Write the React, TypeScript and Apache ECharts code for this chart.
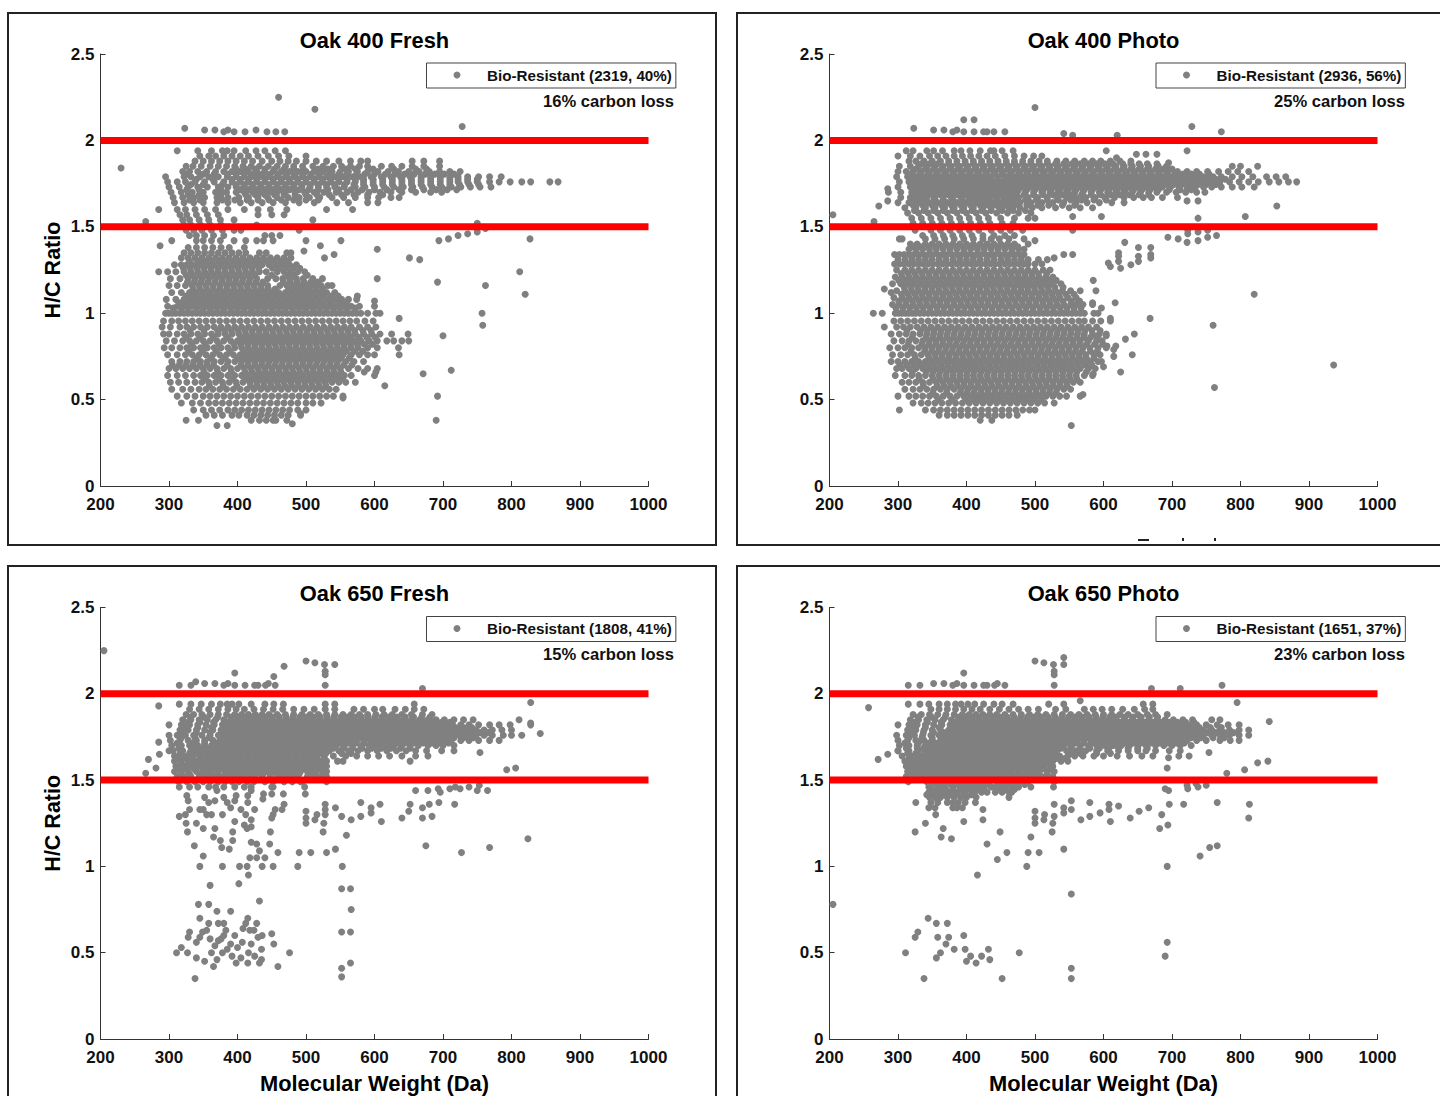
import React, { useEffect, useRef } from "react";
import * as echarts from "echarts";

type Row = [number, number[]];
const FONT = "'Liberation Sans', Arial, sans-serif";
const tickLabelsX = [200, 300, 400, 500, 600, 700, 800, 900, 1000];
const boundaries = [2, 1.5];
const titles = ["Oak 400 Fresh", "Oak 400 Photo", "Oak 650 Fresh", "Oak 650 Photo"];
const legendNames = ["Bio-Resistant (2319, 40%)", "Bio-Resistant (2936, 56%)", "Bio-Resistant (1808, 41%)", "Bio-Resistant (1651, 37%)"];
const lossNotes = ["16% carbon loss", "25% carbon loss", "15% carbon loss", "23% carbon loss"];

const fresh400Upper: Row[] = [
[1.94,[312,342,362,378,385,395,412,427,440,455,470]],
[1.91,[345,358,368,380,392,404,416,430,445,460,475,500]],
[1.88,[338,350,362,374,386,398,410,422,436,450,462,474,486,500,515,530,548,565,580,590,655,672,695]],
[1.85,[325,335,347,360,372,384,396,408,420,432,445,458,470,482,495,510,525,540,552,565,578,590,610,625,640,655,672,695]],
[1.82,[320,330,342,355,368,380,392,404,416,428,440,452,464,476,488,500,512,525,538,550,562,575,590,605,620,635,650,665,680,695,710,725]],
[1.79,[295,322,332,345,358,372,385,398,410,420,432,445,458,470,482,494,506,518,530,542,555,568,580,595,610,624,638,652,668,682,696,710,722,736,752,768,785]],
[1.76,[298,312,324,338,352,366,380,392,404,416,428,440,452,464,476,488,500,512,524,536,548,560,572,584,598,612,626,640,654,668,682,696,710,722,736,750,768,782,798,815,828,856,868]],
[1.73,[300,315,328,342,356,372,386,398,410,422,434,446,458,470,482,494,506,518,530,542,556,572,586,600,614,628,642,656,670,684,698,712,726,740,754,770]],
[1.70,[303,318,334,350,368,384,398,410,422,434,446,458,470,484,498,512,526,544,560,576,592,608,624,640,660,682,698]],
[1.67,[306,320,336,352,370,386,402,416,430,444,458,474,490,505,520,538,555,572,590,606,624,636]],
[1.64,[308,322,336,350,370,386,404,420,436,452,470,490,512,545,562,590,605]],
[1.60,[285,312,324,338,352,368,386,410,430,448,472,530,568]],
[1.57,[316,326,340,356,372,430,450,468]],
[1.54,[320,330,344,358,375,395,510]],
[1.51,[322,332,346,360,376,428]],
[1.48,[325,336,348,362,378,395,405,490]],
[1.45,[330,340,352,365,380,440,450,462]],
[1.42,[304,340,350,362,375,395,412,428,438,452]],
];
const fresh400UpperFill: Row[] = [
[1.835,[398,412,426,440,454,468,482,496,518,532,558,572,598,628,660,676]],
[1.805,[328,350,366,386,398,410,424,436,448,460,472,484,496,508,520,534,548,560,574,586,600,616,630,644,658,674,688,702,716]],
[1.775,[340,364,392,404,416,428,440,452,464,476,488,500,512,524,536,548,560,572,584,598,612,626,640,654,668,682,696,710,722,736,750]],
[1.745,[332,350,378,398,410,422,434,446,458,470,482,494,506,518,530,542,556,570,584,598,612,626,640,654,668,682,696,710,724,738,752]],
[1.715,[326,344,376,404,416,428,440,452,464,476,490,504,518,532,548,566,582,600,618,636,654,672,690,706,720]],
[1.685,[328,344,376,412,426,440,454,468,484,500,516,534,552,570,590,612]],
[1.655,[330,345,378,396,414,430,446,464,482,500,518]],
];
const fresh400Lower: Row[] = [
[1.38,[328,340,352,364,376,388,410]],
[1.35,[322,332,342,352,362,372,382,392,402,412,432,442,472,478]],
[1.32,[318,328,338,348,358,368,378,388,398,408,418,428,438,448,458,468,478]],
[1.28,[308,318,326,336,346,356,366,376,386,396,406,416,426,436,446,456,466,476,486]],
[1.24,[285,298,310,322,332,342,352,362,372,382,392,402,412,422,432,442,458,468,478,488,498]],
[1.20,[302,316,328,338,348,358,368,378,388,398,408,418,428,444,456,466,476,486,496,510,524]],
[1.16,[300,312,324,334,344,354,364,374,384,394,404,414,424,434,444,462,472,482,492,502,512,522,532,538]],
[1.12,[304,318,330,340,350,360,370,380,390,400,410,420,430,440,450,460,470,480,490,500,510,520,530,542]],
[1.08,[296,310,322,332,342,352,362,372,382,392,402,412,422,432,442,452,462,472,482,492,502,512,522,532,542,552,562,574]],
[1.04,[298,312,324,334,344,354,364,374,384,394,404,414,424,434,444,454,464,474,484,494,504,514,524,534,544,554,566,578,600]],
[1.00,[295,300,305,310,316,322,328,334,340,346,352,358,364,370,376,382,388,394,400,406,412,418,424,430,436,442,448,454,460,466,472,478,484,490,496,502,508,514,520,526,532,538,544,550,556,562,568,574,580,590,602,608]],
[0.955,[292,304,314,324,334,344,354,364,374,384,394,404,414,424,434,444,454,464,474,484,494,504,514,524,534,544,554,564,574,586,598]],
[0.92,[290,302,316,326,336,346,356,366,376,386,396,406,416,426,436,446,456,466,476,486,496,506,516,526,536,546,556,566,578,590,602]],
[0.88,[292,300,312,322,332,342,352,362,372,382,392,402,412,422,432,442,452,462,472,482,492,502,512,522,532,542,552,562,572,584,596,608,625,649]],
[0.84,[296,308,320,330,340,350,360,370,380,390,400,410,420,430,440,450,460,470,480,490,500,510,520,530,540,550,560,570,580,592,604,618,628,640,650]],
[0.80,[293,304,316,326,336,346,356,366,376,386,396,406,416,426,436,446,456,466,476,486,496,506,516,526,536,546,556,566,576,590,604,635]],
[0.76,[298,312,324,334,344,354,364,374,384,394,404,414,424,434,444,454,464,474,484,494,504,514,524,534,544,554,566,578,590,600,636]],
[0.72,[304,316,326,336,346,356,366,376,386,396,406,416,426,436,446,456,466,476,486,496,506,516,526,536,546,558,570,584]],
[0.68,[300,310,320,330,340,350,360,370,380,390,400,410,420,430,440,450,460,470,480,490,500,510,520,530,540,550,562,576,590,604]],
[0.64,[298,312,324,336,346,356,366,376,386,396,406,416,426,436,446,456,466,476,486,496,506,516,526,536,546,556,566,600]],
[0.60,[302,314,326,338,348,358,368,378,388,398,408,418,428,438,448,458,468,478,488,498,508,518,528,538,548,558,572]],
[0.56,[304,320,332,344,354,364,374,384,394,404,414,424,434,444,454,464,474,484,494,504,514,524,534,544]],
[0.52,[312,326,338,350,360,370,380,390,400,410,420,430,440,450,460,470,480,490,500,510,520,530,540,554]],
[0.48,[318,334,346,358,368,378,388,398,408,418,428,438,448,458,468,478,488,500,510,522]],
[0.44,[336,350,362,374,386,396,406,416,426,436,446,456,466,476,488,500]],
[0.41,[354,366,378,392,402,414,424,434,444,454,464,474,492]],
[0.38,[325,343,420,432,442,452,456,472]],
];
const fresh400LowerFill: Row[] = [
[1.30,[330,343,353,363,373,383,393,403,413,423,433,443,453,463,473]],
[1.26,[321,331,341,351,361,371,381,391,401,411,421,431,451,461,471,481,491]],
[1.22,[325,335,345,355,365,375,385,395,405,415,425,450,472,482,502]],
[1.18,[327,337,347,357,367,377,387,397,407,417,427,437,467,477,487,497,507,517]],
[1.14,[335,345,355,365,375,385,395,405,415,425,435,445,455,475,485,495,505,515,525]],
[1.10,[325,335,345,355,365,375,385,395,405,415,425,435,445,455,465,475,485,495,505,515,525,537,547]],
[1.06,[317,327,337,347,357,367,377,387,397,407,417,427,437,447,457,467,477,487,497,507,517,527,537,549,559]],
[1.03,[306,318,328,340,350,360,370,380,390,400,410,420,430,440,450,460,470,480,490,500,510,520,530,540,550,560,572]],
[0.90,[331,351,371,381,391,401,411,421,431,441,451,461,471,481,491,501,511,521,531,541,551,561,571,583,595]],
[0.86,[325,345,365,385,405,415,425,435,445,455,465,475,485,495,505,515,525,535,545,555,565,577,589,601]],
[0.82,[333,353,373,395,405,415,425,435,445,455,465,475,485,495,505,515,525,535,545,555,565,575,585,597]],
[0.78,[329,349,369,389,409,419,429,439,449,459,469,479,489,499,509,519,529,539,549,559,571,583]],
[0.74,[341,361,381,401,411,421,431,441,451,461,471,481,491,501,511,521,531,541,551,563]],
[0.70,[305,315,325,335,345,355,365,385,405,415,425,435,445,455,465,475,485,495,505,515,525,535,545,555,567]],
[0.66,[351,371,391,411,421,431,441,451,461,471,481,491,501,511,521,531,541,551]],
[0.62,[353,373,393,413,423,433,443,453,463,473,483,493,503,513,523,533,543,553]],
[0.58,[359,379,399,419,429,439,449,459,469,479,489,499,509,519,529]],
];
const fresh400Scatter: number[][] = [[230,1.84],[266,1.53],[287,1.39],[323,2.07],[352,2.06],[367,2.06],[380,2.05],[386,2.06],[395,2.05],[411,2.05],[427,2.06],[443,2.05],[456,2.05],[469,2.05],[460,2.25],[513,2.18],[728,2.08],[694,1.42],[708,1.43],[722,1.45],[736,1.46],[750,1.47],[750,1.52],[762,1.49],[827,1.43],[551,1.42],[500,1.42],[521,1.39],[497,1.36],[527,1.32],[541,1.34],[604,1.37],[651,1.32],[666,1.31],[604,1.2],[692,1.18],[812,1.24],[762,1.16],[820,1.11],[757,1.0],[758,0.93],[636,0.97],[700,0.87],[712,0.67],[671,0.65],[692,0.52],[690,0.38],[615,0.58],[554,0.51],[480,0.36],[492,0.42],[370,0.35],[385,0.35],[600,1.07],[575,1.1],[602,0.66],[585,0.66]];

const photo400Upper: Row[] = [
[1.94,[312,322,342,352,365,382,392,405,420,435,440,452,468]],
[1.91,[300,318,332,346,358,370,382,394,406,418,430,442,456,470,484,498,510]],
[1.88,[316,326,338,350,362,374,386,398,410,422,434,446,458,470,482,494,506,518,532,545,558,572,584,596,610,624,640]],
[1.85,[302,318,330,342,354,366,378,390,402,414,426,438,450,462,474,486,498,510,522,534,546,558,570,582,594,606,618,630,642,654,666,680,692,788,800,825]],
[1.82,[300,312,322,334,346,358,370,382,394,406,418,430,442,454,466,478,490,502,514,526,538,550,562,574,586,598,610,622,634,646,658,670,682,694,708,722,736,752,768,782,796,812]],
[1.79,[298,314,326,338,350,362,374,386,398,410,422,434,446,458,470,482,494,506,518,530,542,554,566,578,590,602,614,626,638,650,662,674,686,698,710,722,734,746,760,772,788,802,818,838,852,866]],
[1.76,[302,316,328,340,352,364,376,388,400,410,420,430,440,450,460,470,480,492,504,516,528,540,552,564,576,588,600,612,624,636,648,660,672,684,696,708,720,732,744,756,770,784,798,812,826,842,856,870,882]],
[1.73,[300,318,330,342,354,366,378,390,400,410,420,430,440,450,460,470,482,494,506,518,530,542,554,566,578,590,602,614,626,638,650,662,674,686,698,710,722,734,746,758,772,788,802,820]],
[1.70,[286,304,320,332,344,356,368,380,392,402,412,422,432,442,452,462,474,486,498,510,522,534,546,558,570,582,594,606,618,630,642,654,666,678,692,706,720,736,748]],
[1.67,[304,318,330,342,354,366,378,392,404,414,424,434,444,454,464,476,490,504,518,532,546,560,574,588,602,616,630,644,658,670,686,708]],
[1.64,[300,316,330,344,358,372,386,400,414,426,438,450,464,478,494,510,526,542,560,576,594,612,630]],
[1.61,[310,326,340,354,368,382,396,410,424,436,448,462,478,496,510,530,550,566,584]],
[1.58,[314,330,344,358,372,386,400,414,428,444,460,476,494]],
[1.55,[320,334,348,362,376,390,404,418,432,450,470,490,500]],
[1.52,[322,336,350,364,378,392,406,420,434,452,468]],
[1.48,[325,348,362,376,390,404,418,436,450,464,482]],
[1.45,[336,352,366,380,394,408,424,440,456,470]],
];
const photo400UpperFill: Row[] = [
[1.865,[334,346,358,374,386,398,410,422,434,446,458,470,482,494,506,518,530,542,554,566,578,590,602,614,628,640,652,664,678]],
[1.835,[326,340,352,364,376,388,400,412,424,436,448,460,472,484,496,508,520,532,544,556,568,580,592,604,616,628,640,652,664,676,688,700]],
[1.805,[320,332,344,356,368,380,392,404,416,428,440,452,464,476,488,500,512,524,536,548,560,572,584,596,608,620,632,644,656,668,680,692,704,716,728,740,754]],
[1.775,[322,334,346,358,370,382,394,406,416,426,436,446,456,466,476,488,500,512,524,536,548,560,572,584,596,608,620,632,644,656,668,680,692,704,716,728,740,752,764,778]],
[1.745,[324,336,348,360,372,384,394,404,414,424,434,444,454,464,474,486,498,510,522,534,546,558,570,582,594,606,618,630,642,654,666,678,690,702,714,726,738,750,764]],
[1.715,[326,338,350,362,374,386,396,406,416,426,436,446,456,466,476,488,500,512,524,536,548,560,572,584,596,608,620,632,644,656,668,680,696,712,728]],
[1.685,[326,338,350,362,374,386,398,408,418,428,438,448,458,470,484,498,512,526,540,554,568,582,596,610,624,638,652,666]],
[1.655,[324,338,352,366,380,394,406,420,432,444,456,470,486,502,518,534,552,568,586,604]],
[1.625,[322,336,350,364,378,392,406,420,432,444,456,470,488,504,520,540,558]],
[1.595,[324,338,352,366,380,394,408,422,436,452,468,486]],
];
const photo400Lower: Row[] = [
[1.43,[302,306,340,354,368,382,396,410,424,436,448,462,484]],
[1.40,[318,328,340,350,360,370,380,390,400,410,420,430,440,450,460,470,490]],
[1.37,[316,326,336,346,356,366,376,386,396,406,416,426,436,446,456,466,476,484]],
[1.34,[295,302,309,316,323,330,337,344,351,358,365,372,379,386,393,400,407,414,421,428,435,442,449,456,463,470,477,484]],
[1.31,[300,310,320,330,340,350,360,370,380,390,400,410,420,430,440,450,460,470,480,490,505,518]],
[1.285,[295,302,309,316,323,330,337,344,351,358,365,372,379,386,393,400,407,414,421,428,435,442,449,456,463,470,477,484,490,500,510]],
[1.25,[298,310,320,330,340,350,360,370,380,390,400,410,420,430,440,450,460,470,480,490,500,512,522]],
[1.21,[296,306,316,326,336,346,356,366,376,386,396,406,416,426,436,446,456,466,476,486,496,506,516,526]],
[1.17,[292,304,314,324,334,344,354,364,374,384,394,404,414,424,434,444,454,464,474,484,494,504,514,524,538]],
[1.13,[298,310,320,330,340,350,360,370,380,390,400,410,420,430,440,450,460,470,480,490,500,510,520,530,540,552,566]],
[1.09,[294,306,316,326,336,346,356,366,376,386,396,406,416,426,436,446,456,466,476,486,496,506,516,526,536,548,560]],
[1.05,[292,302,312,322,332,342,352,362,372,382,392,402,412,422,432,442,452,462,472,482,492,502,512,522,532,542,552,560,570,584]],
[1.00,[296,301,306,311,316,321,326,332,338,344,350,356,362,368,374,380,386,392,398,404,410,416,422,428,434,440,446,452,458,464,470,476,482,488,494,500,506,512,518,524,530,536,542,548,554,560,566,572,586,592]],
[0.955,[294,304,314,324,334,344,354,364,374,384,394,404,414,424,434,444,454,464,474,484,494,504,514,524,534,544,554,564,572,584,596,610]],
[0.92,[298,308,318,328,338,348,358,368,378,388,398,408,418,428,438,448,458,468,478,488,498,508,518,528,538,548,558,568,578,590]],
[0.88,[290,302,312,322,332,342,352,362,372,382,392,402,412,422,432,442,452,462,472,482,492,502,512,522,532,542,552,562,572,584,594,604]],
[0.84,[294,306,316,326,336,346,356,366,376,386,396,406,416,426,436,446,456,466,476,486,496,506,516,526,536,546,556,566,578,590,598]],
[0.80,[288,300,310,320,330,340,350,360,370,380,390,400,410,420,430,440,450,460,470,480,490,500,510,520,530,540,550,560,570,580,592,604]],
[0.76,[292,304,314,324,334,344,354,364,374,384,394,404,414,424,434,444,454,464,474,484,494,504,514,524,534,544,554,564,574,586,595]],
[0.72,[290,300,310,320,330,340,350,360,370,380,390,400,410,420,430,440,450,460,470,480,490,500,510,520,530,540,550,560,570,580,592]],
[0.68,[298,306,316,326,336,346,356,366,376,386,396,406,416,426,436,446,456,466,476,486,496,506,516,526,536,546,556,566,578,588]],
[0.64,[296,310,320,330,340,350,360,370,380,390,400,410,420,430,440,450,460,470,480,490,500,510,520,530,540,550,560,572,584]],
[0.60,[306,316,326,336,346,356,366,376,386,396,406,416,426,436,446,456,466,476,486,496,506,516,526,536,546,556,566]],
[0.56,[310,322,332,342,352,362,372,382,392,402,412,422,432,442,452,462,472,482,492,502,512,522,532,542,552]],
[0.52,[300,316,326,336,346,356,366,376,386,396,406,416,426,436,446,456,466,476,486,496,506,516,526,536,546]],
[0.48,[322,334,344,354,364,374,384,394,404,414,424,434,444,454,464,474,484,494,504,514,528]],
[0.44,[302,340,352,362,372,382,392,402,412,422,432,442,452,462,472,482,492,500]],
[0.41,[360,372,382,392,402,412,422,432,442,452,462,474]],
];
const photo400LowerFill: Row[] = [
[1.385,[323,333,345,355,365,375,385,395,405,415,425,435,445,455,465,475]],
[1.23,[305,315,325,335,345,355,365,375,385,395,405,415,425,435,445,455,465,475,485,495,505,517]],
[1.19,[301,311,321,331,341,351,361,371,381,391,401,411,421,431,441,451,461,471,481,491,501,511,521,531]],
[1.15,[309,319,329,339,349,359,369,379,389,399,409,419,429,439,449,459,469,479,489,499,509,519,529,541]],
[1.11,[305,315,325,335,345,355,365,375,385,395,405,415,425,435,445,455,465,475,485,495,505,515,525,535,545,557]],
[1.07,[301,311,321,331,341,351,361,371,381,391,401,411,421,431,441,451,461,471,481,491,501,511,521,531,541,553,565]],
[1.03,[297,307,317,327,337,347,357,367,377,387,397,407,417,427,437,447,457,467,477,487,497,507,517,527,537,547,557,567]],
[0.90,[313,333,343,353,363,373,383,393,403,413,423,433,443,453,463,473,483,493,503,513,523,533,543,553,563,573,583,595]],
[0.86,[321,341,351,361,371,381,391,401,411,421,431,441,451,461,471,481,491,501,511,521,531,541,551,561,571,581,591]],
[0.82,[315,335,345,355,365,375,385,395,405,415,425,435,445,455,465,475,485,495,505,515,525,535,545,555,565,575,587,599]],
[0.78,[319,339,349,359,369,379,389,399,409,419,429,439,449,459,469,479,489,499,509,519,529,539,549,559,569,581,591]],
[0.74,[325,345,355,365,375,385,395,405,415,425,435,445,455,465,475,485,495,505,515,525,535,545,555,565,575,586]],
[0.70,[303,313,323,333,343,353,363,373,383,393,403,413,423,433,443,453,463,473,483,493,503,513,523,533,543,553,563,573,583]],
[0.66,[321,341,351,361,371,381,391,401,411,421,431,441,451,461,471,481,491,501,511,521,531,541,551,561,575]],
[0.62,[331,351,361,371,381,391,401,411,421,431,441,451,461,471,481,491,501,511,521,531,541,551,561]],
[0.58,[337,357,367,377,387,397,407,417,427,437,447,457,467,477,487,497,507,517,527,537,547]],
[0.54,[351,371,391,401,411,421,431,441,451,461,471,481,491,501,511,521,531]],
[0.50,[359,379,399,409,419,429,439,449,459,469,479,489,499,509]],
];
const photo400Scatter: number[][] = [[205,1.57],[264,1.0],[277,1.0],[280,1.14],[280,0.92],[272,1.62],[265,1.53],[285,1.65],[285,1.72],[290,1.12],[323,2.07],[352,2.06],[367,2.06],[380,2.05],[386,2.06],[396,2.12],[396,2.05],[411,2.12],[411,2.05],[425,2.05],[430,2.05],[440,2.05],[456,2.05],[500,2.19],[542,2.04],[555,2.03],[620,2.03],[729,2.08],[772,2.05],[722,1.94],[604,1.94],[619,1.90],[648,1.92],[662,1.92],[678,1.92],[695,1.87],[853,1.62],[807,1.56],[738,1.55],[597,1.56],[555,1.56],[555,1.48],[722,1.65],[738,1.65],[694,1.44],[709,1.43],[722,1.41],[723,1.46],[723,1.48],[738,1.42],[738,1.47],[752,1.44],[752,1.48],[765,1.45],[631,1.41],[651,1.38],[669,1.38],[669,1.34],[669,1.32],[651,1.33],[651,1.30],[622,1.35],[622,1.33],[622,1.30],[607,1.29],[610,1.27],[625,1.26],[640,1.28],[555,1.34],[542,1.34],[528,1.32],[500,1.42],[820,1.11],[936,0.70],[760,0.93],[762,0.57],[668,0.97],[645,0.88],[632,0.85],[617,1.06],[610,0.97],[597,1.03],[642,0.76],[625,0.66],[597,0.72],[600,0.69],[585,0.65],[566,0.52],[570,0.53],[553,0.35],[437,0.38],[420,0.38],[585,1.19],[589,1.13],[584,1.06],[604,0.87],[605,0.81],[618,0.81],[615,0.79],[615,0.75]];

const fresh650Upper: Row[] = [
[1.94,[315,332,347,362,375,385,392,402,420,440,453,467,528,542]],
[1.91,[330,344,358,372,386,398,410,424,438,452,466,482,497,512,528,542,570,584,600,612,630,645,658,672]],
[1.88,[325,336,348,360,372,384,396,406,416,426,436,446,458,470,482,494,506,518,530,542,554,566,578,590,602,614,626,640,654,670,684]],
[1.85,[320,332,344,356,368,380,390,400,410,420,430,440,450,460,470,480,490,500,510,520,530,540,550,560,570,580,590,600,610,620,630,642,654,666,678,690,702,716,730,744]],
[1.82,[300,318,330,342,354,366,378,388,398,408,418,428,438,448,458,468,478,488,498,508,518,528,538,548,558,568,578,588,598,608,618,630,642,654,666,678,690,702,714,726,738,752,768,782,798,828]],
[1.79,[316,328,340,352,364,376,386,396,406,416,426,436,446,456,466,476,486,496,506,516,526,536,546,556,566,576,586,596,606,616,628,640,652,664,676,688,700,712,724,736,748,760,772,786,800]],
[1.76,[300,312,324,336,348,360,372,384,394,404,414,424,434,444,454,464,474,484,494,504,514,524,534,544,554,564,574,584,594,604,616,628,640,652,664,676,688,700,712,724,736,748,760,772,788,800,815]],
[1.73,[302,316,328,340,352,364,374,384,394,404,414,424,434,444,454,464,474,484,494,504,514,524,534,544,554,564,574,584,594,604,616,628,640,652,664,676,688,700,712,726,738,752,768,782]],
[1.70,[304,318,330,342,352,362,372,382,392,402,412,422,432,442,452,462,472,482,492,502,512,522,532,544,556,568,580,592,604,616,628,640,652,664,678,690,700,716]],
[1.67,[306,320,332,344,354,364,374,384,394,404,414,424,434,444,454,464,474,484,494,504,514,524,534,548,562,576,590,604,618,632,646,660,676,698,716]],
[1.64,[308,322,334,346,356,366,376,386,396,406,416,426,436,446,456,466,476,486,496,506,516,526,540,558,574,590,606,622,640,660,678]],
[1.61,[308,318,330,342,352,362,372,382,392,402,412,422,432,442,452,462,472,482,492,502,512,522,530,546,554]],
[1.58,[310,322,332,344,354,364,374,384,394,404,414,424,434,444,454,464,474,484,494,504,514,524,530]],
[1.55,[308,318,328,340,352,362,372,382,392,402,412,422,432,442,452,462,472,482,492,502,514,524,530]],
[1.52,[312,322,332,344,354,366,376,388,400,412,424,436,448,460,472,484,502,518,530]],
[1.49,[314,326,338,350,360,372,382,392,402,414,424,440,452,468,480,492,530]],
[1.46,[315,330,342,358,368,380,396,410,420,450,498]],
];
const fresh650UpperFill: Row[] = [
[1.865,[331,351,371,391,401,411,421,431,441,451,461,471,481,491,501,511,521,531,541,551,561,571,581,591,601,611,621,633,645,657,669,681]],
[1.835,[325,345,365,385,395,405,415,425,435,445,455,465,475,485,495,505,515,525,535,545,555,565,575,585,595,605,615,626,638,650,662,674,686,698,710]],
[1.805,[322,342,362,381,391,401,411,421,431,441,451,461,471,481,491,501,511,521,531,541,551,561,571,581,591,601,611,622,634,646,658,670,682,694,706,718,730,742]],
[1.775,[320,340,360,379,389,399,409,419,429,439,449,459,469,479,489,499,509,519,529,539,549,559,569,579,589,599,610,622,634,646,658,670,682,694,706,718,730,742,754,766]],
[1.745,[318,338,358,377,387,397,407,417,427,437,447,457,467,477,487,497,507,517,527,537,547,557,567,577,587,597,608,620,632,644,656,668,680,692,704,716,730,744]],
[1.715,[312,335,352,367,377,387,397,407,417,427,437,447,457,467,477,487,497,507,517,527,537,549,561,573,585,597,609,621,633,645,657,671,684,696,708]],
[1.685,[314,336,350,357,367,377,387,397,407,417,427,437,447,457,467,477,487,497,507,517,527,540,554,568,582,596,610,624,638,652]],
[1.655,[316,330,340,349,359,369,379,389,399,409,419,429,439,449,459,469,479,489,499,509,519,529,552,566]],
[1.625,[313,325,335,345,355,365,375,385,395,405,415,425,435,445,455,465,475,485,495,505,515,527]],
[1.595,[317,327,337,347,357,367,377,387,397,407,417,427,437,447,457,467,477,487,497,507,517,527]],
[1.565,[314,325,337,349,359,369,379,389,399,409,419,429,439,449,459,469,479,489,499,509,519]],
[1.535,[318,330,347,359,371,383,395,407,417,427,437,447,457,467,477,490,510,525]],
];
const fresh650Scatter: number[][] = [[205,2.25],[285,1.93],[270,1.62],[281,1.57],[266,1.54],[285,1.72],[286,1.65],[300,1.67],[315,2.05],[332,2.05],[339,2.07],[352,2.06],[367,2.06],[380,2.05],[386,2.06],[396,2.12],[396,2.05],[411,2.05],[425,2.05],[430,2.05],[441,2.05],[445,2.06],[453,2.10],[455,2.05],[468,2.16],[500,2.19],[513,2.18],[527,2.17],[528,2.13],[528,2.11],[528,2.05],[542,2.17],[670,2.03],[828,1.95],[658,1.94],[793,1.56],[806,1.57],[754,1.66],[652,1.61],[842,1.77],[828,1.83],[811,1.85],[660,1.44],[678,1.44],[693,1.45],[696,1.43],[710,1.45],[718,1.46],[725,1.45],[738,1.46],[750,1.44],[753,1.47],[765,1.44],[652,1.36],[670,1.34],[680,1.36],[694,1.37],[717,1.36],[650,1.32],[670,1.28],[684,1.29],[675,1.12],[727,1.08],[768,1.11],[824,1.16],[640,1.28],[610,1.26],[608,1.36],[595,1.34],[595,1.31],[580,1.37],[580,1.29],[566,1.27],[552,1.29],[559,1.18],[543,1.34],[543,1.10],[530,1.08],[528,1.36],[528,1.33],[528,1.30],[526,1.25],[525,1.20],[516,1.30],[513,1.27],[507,1.08],[500,1.32],[500,1.28],[500,1.25],[499,1.42],[490,1.08],[488,1.0],[553,1.0],[552,0.87],[565,0.87],[566,0.75],[552,0.62],[565,0.62],[565,0.44],[552,0.41],[552,0.36],[459,0.42],[476,0.50],[453,0.55],[450,0.61],[459,1.08],[447,1.13],[448,1.20],[452,1.30],[450,1.28],[452,1.00],[436,1.00],[440,1.05],[428,1.05],[418,1.05],[414,1.00],[416,0.95],[403,1.0],[378,1.0],[345,1.0],[402,0.90],[360,0.89],[432,0.80],[432,1.09],[428,1.13],[420,1.14],[388,1.10],[377,1.11],[375,1.15],[365,1.17],[337,1.12],[350,1.06],[393,1.15],[393,1.20],[367,1.22],[350,1.22],[340,1.25],[325,1.25],[327,1.20],[315,1.29],[324,1.30],[396,1.26],[410,1.24],[420,1.27],[420,1.23],[414,1.22],[378,1.30],[355,1.30],[362,1.30],[345,1.33],[330,1.33],[328,1.38],[326,1.41],[350,1.33],[352,1.40],[358,1.37],[367,1.38],[370,1.44],[380,1.40],[385,1.37],[390,1.34],[396,1.38],[398,1.41],[405,1.33],[412,1.30],[415,1.37],[415,1.41],[420,1.44],[425,1.33],[437,1.39],[438,1.42],[450,1.42],[452,1.46],[468,1.36],[467,1.42],[465,1.33],[455,1.33],[495,1.49],[311,0.50],[318,0.53],[327,0.50],[328,0.59],[330,0.62],[340,0.47],[340,0.56],[345,0.59],[345,0.70],[343,0.78],[349,0.62],[352,0.45],[355,0.63],[358,0.67],[358,0.78],[360,0.58],[362,0.50],[365,0.42],[367,0.54],[370,0.46],[370,0.74],[372,0.57],[372,0.67],[376,0.58],[378,0.50],[380,0.60],[380,0.67],[383,0.63],[385,0.52],[390,0.74],[390,0.55],[392,0.48],[396,0.60],[398,0.44],[400,0.53],[405,0.47],[407,0.56],[408,0.64],[412,0.67],[415,0.70],[415,0.44],[416,0.50],[418,0.63],[420,0.55],[424,0.63],[428,0.67],[425,0.48],[432,0.44],[435,0.52],[435,0.46],[436,0.60],[430,0.59],[338,0.35]];

const photo650Upper: Row[] = [
[1.94,[315,332,345,360,372,384,392,402,412,425,440,452,468,520,542,658,672]],
[1.91,[348,360,372,384,396,408,420,434,448,462,476,490,505,530,545,572,585,598,612,628,645,660,672]],
[1.88,[322,334,346,358,370,382,394,404,414,424,434,444,456,468,480,492,504,516,528,540,552,564,576,588,600,612,624,636,650,664,676,693]],
[1.85,[318,330,342,354,366,378,388,398,408,418,428,438,448,458,468,478,488,498,508,518,528,538,548,558,568,578,588,598,608,618,630,642,654,666,678,690,702,716,730,758,770]],
[1.82,[300,316,328,340,352,364,376,386,396,406,416,426,436,446,456,466,476,486,496,506,516,526,536,546,556,566,576,586,596,606,616,628,640,652,664,676,688,700,712,724,736,750,766,782,798]],
[1.79,[314,326,338,350,362,374,384,394,404,414,424,434,444,454,464,474,484,494,504,514,524,534,544,554,564,574,584,594,604,614,626,638,650,662,674,686,698,710,722,734,746,758,770,784,798,812]],
[1.76,[298,312,324,336,348,360,372,382,392,402,412,422,432,442,452,462,472,482,492,502,512,522,532,542,552,562,572,582,592,602,614,626,638,650,662,674,686,698,710,722,734,746,758,770,784,798,812]],
[1.73,[300,314,326,338,350,362,372,382,392,402,412,422,432,442,452,462,472,482,492,502,512,522,532,542,552,562,572,582,592,602,614,626,638,650,662,674,686,698,710,722,736,750,770,785,798]],
[1.70,[302,316,328,340,350,360,370,380,390,400,410,420,430,440,450,460,470,480,490,500,510,520,530,542,554,566,578,590,602,614,626,638,650,662,676,688,700,712,728]],
[1.67,[300,316,330,342,352,362,372,382,392,402,412,422,432,442,452,462,472,482,492,502,512,522,532,546,560,574,590,606,622,636,650,662,676,696,712]],
[1.64,[306,320,332,344,354,364,374,384,394,404,414,424,434,444,454,464,474,484,494,504,514,524,536,548,558,570,586,600,620,638,656,672]],
[1.61,[310,322,334,344,354,364,374,384,394,404,414,424,434,444,454,464,474,484,494,504,514,526,538,548]],
[1.58,[312,324,334,344,354,364,374,384,394,404,414,424,434,444,454,464,474,484,494,504,514,526]],
[1.55,[314,326,336,346,356,366,376,386,396,406,416,426,436,446,456,466,476,486,496,506,518,528]],
[1.52,[312,322,336,348,360,370,380,390,400,410,420,430,440,450,460,470,482,494,510,526]],
[1.49,[315,342,352,362,374,384,394,404,414,424,434,444,456,468,478,490,528]],
[1.46,[345,358,368,380,390,400,412,424,436,442,454,466,476,494,527]],
[1.43,[345,354,364,374,386,398,412,422,430,442,452,462,466]],
[1.40,[346,354,362,372,382,392,400,414,462]],
[1.37,[326,348,358,372,380,388,398,413]],
[1.34,[345,354,380,386,394]],
[1.30,[355]],
];
const photo650UpperFill: Row[] = [
[1.865,[329,349,369,389,399,409,419,429,439,449,459,469,479,489,499,509,519,529,539,549,559,569,579,589,599,609,619,631,643,655,667,679]],
[1.835,[323,343,363,383,393,403,413,423,433,443,453,463,473,483,493,503,513,523,533,543,553,563,573,583,593,603,613,624,636,648,660,672,684,696,708,720,732]],
[1.805,[320,340,360,379,389,399,409,419,429,439,449,459,469,479,489,499,509,519,529,539,549,559,569,579,589,599,609,620,632,644,656,668,680,692,704,716,728,740,756,772]],
[1.775,[318,337,352,367,377,387,397,407,417,427,437,447,457,467,477,487,497,507,517,527,537,547,557,567,577,587,597,608,620,632,644,656,668,680,692,704,716,728,740,752,764,776,790]],
[1.745,[316,335,350,365,375,385,395,405,415,425,435,445,455,465,475,485,495,505,515,525,535,545,555,565,575,585,595,606,618,630,642,654,666,678,690,702,714,728,742,760,776]],
[1.715,[310,330,345,355,365,375,385,395,405,415,425,435,445,455,465,475,485,495,505,515,525,535,547,559,571,583,595,607,619,631,643,655,669,682,694,706,718]],
[1.685,[312,328,337,345,355,365,375,385,395,405,415,425,435,445,455,465,475,485,495,505,515,525,538,552,566,580,594,608,622,636,650,664]],
[1.655,[314,326,339,349,359,369,379,389,399,409,419,429,439,449,459,469,479,489,499,509,519,529,552,566,590,610]],
[1.625,[316,329,339,349,359,369,379,389,399,409,419,429,439,449,459,469,479,489,499,509,519,531,543]],
[1.595,[318,329,339,349,359,369,379,389,399,409,419,429,439,449,459,469,479,489,499,509,519]],
[1.565,[319,331,341,351,361,371,381,391,401,411,421,431,441,451,461,471,481,491,501,511,523]],
[1.535,[318,330,342,354,365,375,385,395,405,415,425,435,445,455,465,476,488,502,518]],
[1.475,[348,357,367,377,387,397,407,418,429,448,460,472,485]],
[1.445,[350,360,370,380,392,405,417,426,447,457,470]],
[1.415,[342,350,358,367,377,387,396,407]],
];
const photo650Scatter: number[][] = [[205,0.78],[257,1.92],[271,1.62],[285,1.65],[300,1.67],[315,2.05],[332,2.05],[352,2.06],[367,2.06],[380,2.05],[386,2.06],[396,2.12],[396,2.05],[411,2.05],[425,2.05],[430,2.05],[441,2.05],[445,2.06],[456,2.05],[500,2.19],[513,2.18],[527,2.17],[528,2.13],[528,2.11],[528,2.05],[542,2.21],[542,2.17],[566,1.96],[670,2.03],[712,2.03],[773,2.05],[795,1.95],[842,1.84],[825,1.60],[840,1.61],[806,1.56],[780,1.54],[754,1.66],[693,1.57],[695,1.63],[710,1.64],[725,1.64],[690,1.45],[695,1.44],[722,1.47],[723,1.45],[735,1.48],[738,1.46],[750,1.47],[696,1.36],[717,1.36],[766,1.37],[813,1.36],[812,1.28],[652,1.32],[666,1.34],[685,1.30],[694,1.24],[682,1.22],[639,1.28],[622,1.35],[608,1.36],[608,1.33],[610,1.26],[595,1.31],[580,1.37],[580,1.29],[567,1.27],[553,1.38],[553,1.33],[542,1.34],[542,1.31],[528,1.36],[528,1.29],[526,1.25],[525,1.20],[514,1.30],[513,1.27],[500,1.32],[500,1.28],[500,1.25],[494,1.17],[490,1.08],[506,1.08],[488,1.0],[542,1.10],[459,1.08],[445,1.04],[449,1.20],[430,1.13],[416,0.95],[378,1.16],[363,1.17],[366,1.22],[340,1.25],[325,1.20],[396,1.26],[424,1.27],[424,1.33],[693,1.0],[741,1.06],[755,1.11],[766,1.12],[553,0.84],[693,0.56],[690,0.48],[553,0.41],[553,0.35],[452,0.35],[338,0.35],[311,0.50],[325,0.59],[329,0.62],[344,0.70],[356,0.67],[372,0.67],[358,0.59],[374,0.59],[370,0.55],[356,0.47],[362,0.50],[382,0.52],[396,0.60],[398,0.52],[406,0.48],[400,0.45],[414,0.44],[422,0.48],[432,0.52],[434,0.46],[477,0.50]];

const flat = (rows: Row[]) => rows.flatMap(([hc, mws]) => mws.map((m) => [m, hc]));
const panelData = [
  [...flat(fresh400Upper), ...flat(fresh400UpperFill), ...flat(fresh400Lower), ...flat(fresh400LowerFill), ...fresh400Scatter],
  [...flat(photo400Upper), ...flat(photo400UpperFill), ...flat(photo400Lower), ...flat(photo400LowerFill), ...photo400Scatter],
  [...flat(fresh650Upper), ...flat(fresh650UpperFill), ...fresh650Scatter],
  [...flat(photo650Upper), ...flat(photo650UpperFill), ...photo650Scatter],
];

const GRID_W = 548;
const layout = [
  { left: 100.5, top: 54, height: 432, frame: [8, 13, 708, 532], legendX: 426.5, noteX: 674 },
  { left: 829.5, top: 54, height: 432, frame: [737, 13, 720, 532], legendX: 1156, noteX: 1405 },
  { left: 100.5, top: 607.5, height: 431.5, frame: [8, 566, 708, 550], legendX: 426.5, noteX: 674 },
  { left: 829.5, top: 607.5, height: 431.5, frame: [737, 566, 720, 550], legendX: 1156, noteX: 1405 },
];
const clippedLabelMarks = [[1138, 539, 11, 2], [1182, 538, 2, 3], [1214, 538, 2, 3]];

export default function App() {
  const ref = useRef<HTMLDivElement>(null);
  useEffect(() => {
    document.body.style.margin = "0";
    const chart = echarts.init(ref.current!, undefined, { renderer: "svg" });
    const textBase = { fontFamily: FONT, fontWeight: "bold" as const, color: "#000" };
    const labelStyle = { fontFamily: FONT, fontWeight: "bold" as const, color: "#111", fontSize: 17 };
    const series: any[] = [];
    layout.forEach((_, i) => {
      series.push({
        type: "scatter", name: legendNames[i], xAxisIndex: i, yAxisIndex: i,
        data: panelData[i], symbol: "circle", symbolSize: 7,
        itemStyle: { color: "#808080", opacity: 1 }, silent: true, z: 2, large: false,
      });
      boundaries.forEach((b) => {
        series.push({
          type: "line", name: `H/C ${b}`, xAxisIndex: i, yAxisIndex: i,
          data: [[tickLabelsX[0], b], [tickLabelsX[tickLabelsX.length - 1], b]],
          showSymbol: false, silent: true, z: 3,
          lineStyle: { color: "#ff0000", width: 7, cap: "butt" },
        });
      });
    });
    chart.setOption({
      animation: false,
      backgroundColor: "#fff",
      title: layout.map((l, i) => ({
        text: titles[i], left: l.left + GRID_W / 2, top: l.top - 25, textAlign: "center",
        padding: 0, textStyle: { ...textBase, fontSize: 21.85 },
      })),
      legend: layout.map((l, i) => ({
        data: [{ name: legendNames[i], icon: "circle" }],
        left: l.legendX, top: l.top + 9,
        orient: "horizontal", selectedMode: false,
        itemWidth: 50, itemHeight: 7,
        padding: [4, 4, 5, 27],
        borderColor: "#444", borderWidth: 1, backgroundColor: "#fff",
        textStyle: { ...textBase, fontSize: 15.2, lineHeight: 16, color: "#111" },
      })),
      grid: layout.map((l) => ({ left: l.left, top: l.top, width: GRID_W, height: l.height, containLabel: false })),
      xAxis: layout.map((_, i) => ({
        type: "value", gridIndex: i, min: 200, max: 1000, interval: 100,
        name: i >= 2 ? "Molecular Weight (Da)" : "",
        nameLocation: "middle", nameGap: 33,
        nameTextStyle: { ...textBase, fontSize: 21.85 },
        axisLine: { show: true, onZero: false, lineStyle: { color: "#333", width: 1 } },
        axisTick: { show: true, inside: true, length: 5, lineStyle: { color: "#333" } },
        axisLabel: { ...labelStyle, margin: 10, formatter: (v: number) => String(v) },
        splitLine: { show: false },
      })),
      yAxis: layout.map((_, i) => ({
        type: "value", gridIndex: i, min: 0, max: 2.5, interval: 0.5,
        name: i % 2 === 0 ? "H/C Ratio" : "",
        nameLocation: "middle", nameGap: 37,
        nameTextStyle: { ...textBase, fontSize: 21.5 },
        axisLine: { show: true, onZero: false, lineStyle: { color: "#333", width: 1 } },
        axisTick: { show: true, inside: true, length: 5, lineStyle: { color: "#333" } },
        axisLabel: { ...labelStyle, margin: 6 },
        splitLine: { show: false },
      })),
      graphic: [
        ...layout.map((l) => ({
          type: "rect", z: 0, silent: true,
          shape: { x: l.frame[0], y: l.frame[1], width: l.frame[2], height: l.frame[3] },
          style: { fill: "none", stroke: "#222", lineWidth: 2 },
        })),
        ...layout.map((l, i) => ({
          type: "text", z: 5, silent: true, x: l.noteX, y: l.top + 47,
          style: { text: lossNotes[i], fill: "#111", font: `bold 16.6px ${FONT}`, textAlign: "right", textVerticalAlign: "middle" },
        })),
        ...clippedLabelMarks.map(([x, y, width, height]) => ({
          type: "rect", z: 1, silent: true, shape: { x, y, width, height }, style: { fill: "#222" },
        })),
      ],
      series,
    });
    return () => chart.dispose();
  }, []);
  return <div ref={ref} style={{ width: 1440, height: 1096 }} />;
}
